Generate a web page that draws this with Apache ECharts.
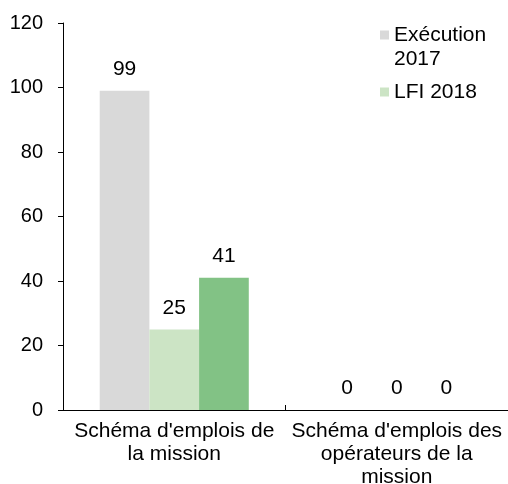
<!DOCTYPE html>
<html>
<head>
<meta charset="utf-8">
<script src="https://cdn.jsdelivr.net/npm/echarts@6/dist/echarts.min.js"></script>
<style>html,body{margin:0;padding:0;background:#fff}#c{width:508px;height:484px}</style>
</head>
<body>
<div id="c"></div>
<script>
var categories = ["Schéma d'emplois de\nla mission", "Schéma d'emplois des\nopérateurs de la\nmission"];
var seriesNames = ["Exécution 2017", "LFI 2018", "PLF 2019"];
var execution2017 = [99, 0];
var lfi2018 = [25, 0];
var plf2019 = [41, 0];
var yTicks = {min: 0, max: 120, interval: 20};

var FONT = "'Liberation Sans', Arial, sans-serif";
var colors = ['#d9d9d9', '#cce4c5', '#82c285'];
var chart = echarts.init(document.getElementById('c'));
function mk(name, data, color) {
  return {
    name: name, type: 'bar', data: data, barGap: '0%', barCategoryGap: '33%',
    itemStyle: {color: color},
    label: {show: true, position: 'top', distance: 11, color: '#000', fontFamily: FONT, fontSize: 21},
    animation: false
  };
}
chart.setOption({
  animation: false,
  textStyle: {fontFamily: FONT},
  grid: {left: 63, right: 0, top: 23, bottom: 74, containLabel: false, outerBoundsMode: 'none'},
  legend: {
    orient: 'vertical', left: 380, top: -1, padding: 0, itemGap: 9,
    itemWidth: 9, itemHeight: 9, icon: 'rect',
    data: [seriesNames[0], seriesNames[1]],
    formatter: function (n) { return n === seriesNames[0] ? ' \nExécution\n2017' : n; },
    textStyle: {color: '#000', fontFamily: FONT, fontSize: 21, lineHeight: 24}
  },
  xAxis: {
    type: 'category', data: categories,
    axisLine: {lineStyle: {color: '#000', width: 1}},
    axisTick: {show: true, inside: true, length: 5, lineStyle: {color: '#000'}},
    axisLabel: {color: '#000', fontFamily: FONT, fontSize: 21, lineHeight: 23, margin: 10, interval: 0}
  },
  yAxis: {
    type: 'value', min: yTicks.min, max: yTicks.max, interval: yTicks.interval,
    splitLine: {show: false},
    axisLine: {show: true, lineStyle: {color: '#000', width: 1}},
    axisTick: {show: true, length: 5, lineStyle: {color: '#000'}},
    axisLabel: {color: '#000', fontFamily: FONT, fontSize: 20, margin: 20}
  },
  series: [
    mk(seriesNames[0], execution2017, colors[0]),
    mk(seriesNames[1], lfi2018, colors[1]),
    mk(seriesNames[2], plf2019, colors[2])
  ]
});
</script>
</body>
</html>
